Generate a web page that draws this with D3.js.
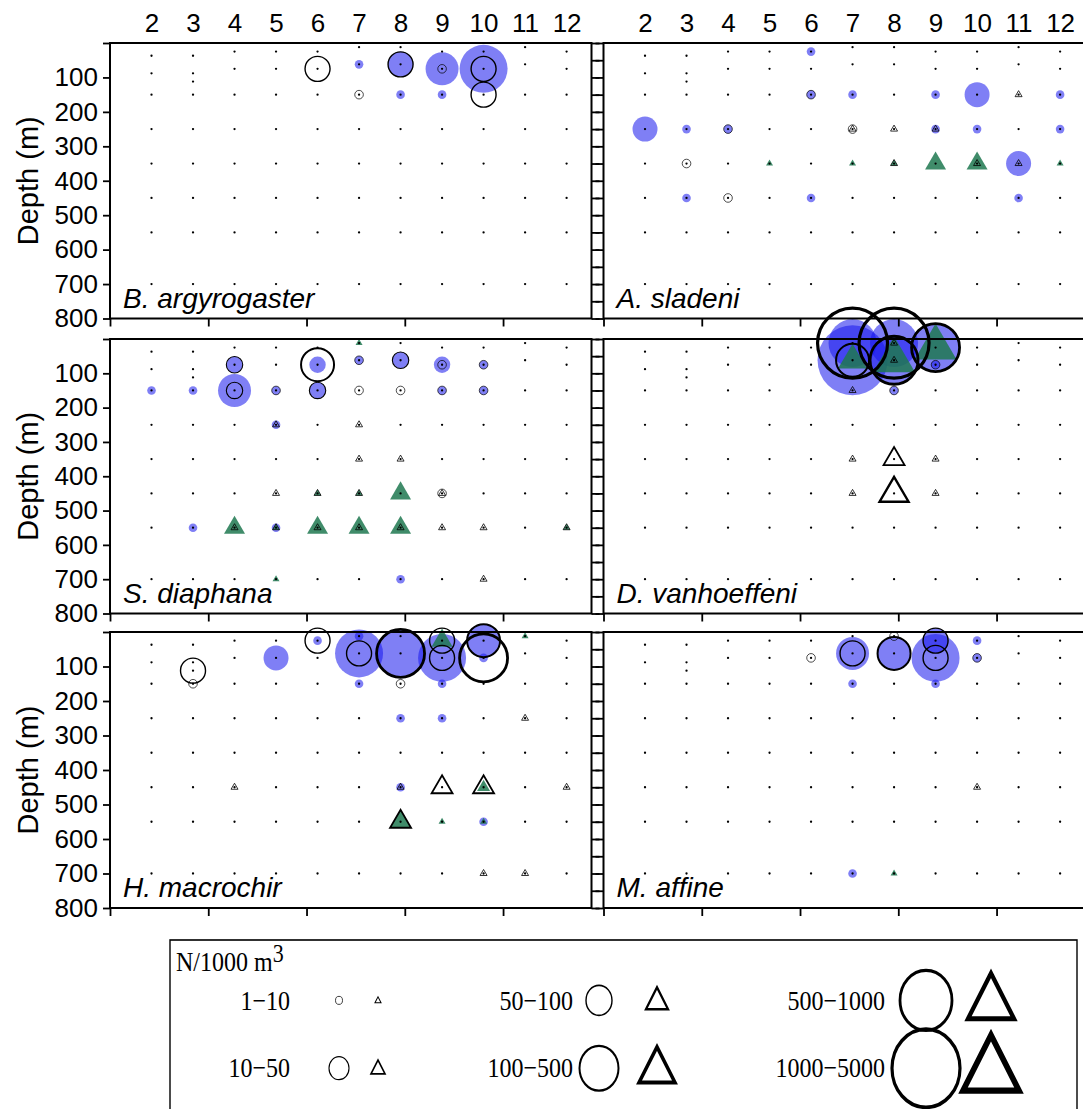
<!DOCTYPE html>
<html>
<head>
<meta charset="utf-8">
<script src="https://cdn.jsdelivr.net/npm/d3@7"></script>
<style>
  body { margin: 0; background: #fff; }
  svg { display: block; }
</style>
</head>
<body>
<svg id="chart" width="1083" height="1109"></svg>
<script>
// ---- data -------------------------------------------------------------
const stations = [2, 3, 4, 5, 6, 7, 8, 9, 10, 11, 12];
const depthTicks = [0, 100, 200, 300, 400, 500, 600, 700, 800];
const minorDepthTicks = d3.range(0, 801, 50);

// sampled depth layers (m) at each station
const upperDepths = {
  2: [37, 88], 3: [37, 88, 112], 4: [25, 75], 5: [25, 75], 6: [25, 75],
  7: [12, 62], 8: [12, 62], 9: [25, 75], 10: [25, 75], 11: [12, 62], 12: [25, 75]
};
const lowerDepths = [150, 250, 350, 450, 550, 700];

const abundanceClasses = ["1−10", "10−50", "50−100", "100−500", "500−1000", "1000−5000"];

// records: [station, depth, symbol, abundance class 1..6]
// symbol: fc = filled circle, oc = open circle, ft = filled triangle, ot = open triangle
const argyrogaster = [
  [6, 75, "oc", 3],
  [7, 62, "fc", 1], [7, 150, "oc", 1],
  [8, 62, "fc", 3], [8, 62, "oc", 3], [8, 150, "fc", 1],
  [9, 75, "fc", 4], [9, 75, "oc", 1], [9, 150, "fc", 1],
  [10, 75, "fc", 5], [10, 75, "oc", 3], [10, 150, "oc", 3]
];

const sladeni = [
  [6, 25, "fc", 1],
  [6, 150, "fc", 1], [6, 150, "oc", 1], [7, 150, "fc", 1], [9, 150, "fc", 1],
  [10, 150, "fc", 3], [11, 150, "ot", 1], [12, 150, "fc", 1],
  [2, 250, "fc", 3], [3, 250, "fc", 1], [4, 250, "fc", 1], [4, 250, "oc", 1],
  [7, 250, "oc", 1], [7, 250, "ot", 1], [8, 250, "ot", 1],
  [9, 250, "fc", 1], [9, 250, "ot", 1], [10, 250, "fc", 1], [12, 250, "fc", 1],
  [3, 350, "oc", 1], [5, 350, "ft", 1], [7, 350, "ft", 1],
  [8, 350, "ft", 1], [8, 350, "ot", 1], [9, 350, "ft", 3],
  [10, 350, "ft", 3], [10, 350, "ot", 1],
  [11, 350, "fc", 3], [11, 350, "ot", 1], [12, 350, "ft", 1],
  [3, 450, "fc", 1], [4, 450, "oc", 1], [6, 450, "fc", 1], [11, 450, "fc", 1]
];

const diaphana = [
  [7, 12, "ft", 1],
  [4, 75, "fc", 2], [4, 75, "oc", 2],
  [6, 75, "fc", 2], [6, 75, "oc", 4],
  [7, 62, "fc", 1], [7, 62, "oc", 1],
  [8, 62, "fc", 2], [8, 62, "oc", 2],
  [9, 75, "fc", 2], [9, 75, "oc", 1],
  [10, 75, "fc", 1], [10, 75, "oc", 1],
  [2, 150, "fc", 1], [3, 150, "fc", 1],
  [4, 150, "fc", 4], [4, 150, "oc", 2],
  [5, 150, "fc", 1], [5, 150, "oc", 1],
  [6, 150, "fc", 2], [6, 150, "oc", 2],
  [7, 150, "oc", 1], [8, 150, "oc", 1],
  [9, 150, "fc", 1], [9, 150, "oc", 1],
  [10, 150, "fc", 1], [10, 150, "oc", 1],
  [5, 250, "fc", 1], [5, 250, "ot", 1], [7, 250, "ot", 1],
  [7, 350, "ot", 1], [8, 350, "ot", 1],
  [5, 450, "ot", 1], [6, 450, "ft", 1], [6, 450, "ot", 1],
  [7, 450, "ft", 1], [7, 450, "ot", 1], [8, 450, "ft", 3],
  [9, 450, "oc", 1], [9, 450, "ot", 1],
  [3, 550, "fc", 1], [4, 550, "ft", 3], [4, 550, "ot", 1],
  [5, 550, "fc", 1], [5, 550, "ft", 1], [5, 550, "ot", 1],
  [6, 550, "ft", 3], [6, 550, "ot", 1], [7, 550, "ft", 3], [7, 550, "ot", 1],
  [8, 550, "ft", 3], [8, 550, "ot", 1], [9, 550, "ot", 1], [10, 550, "ot", 1],
  [12, 550, "ft", 1], [12, 550, "ot", 1],
  [5, 700, "ft", 1], [8, 700, "fc", 1], [10, 700, "ot", 1]
];

const vanhoeffeni = [
  [7, 12, "fc", 5], [7, 62, "fc", 6], [8, 12, "fc", 5], [8, 62, "fc", 5], [9, 25, "fc", 5],
  [7, 62, "ft", 4], [8, 62, "ft", 5], [9, 25, "ft", 5],
  [7, 12, "oc", 6], [7, 62, "oc", 4], [8, 12, "oc", 6], [8, 62, "oc", 5], [9, 25, "oc", 5],
  [9, 75, "fc", 1], [9, 75, "oc", 1],
  [8, 12, "ot", 1], [8, 62, "ot", 1],
  [7, 150, "ot", 1], [8, 150, "fc", 1], [8, 150, "oc", 1],
  [7, 350, "ot", 1], [8, 350, "ot", 3], [9, 350, "ot", 1],
  [7, 450, "ot", 1], [8, 450, "ot", 4], [9, 450, "ot", 1]
];

const macrochir = [
  [3, 112, "oc", 3], [3, 150, "oc", 1],
  [5, 75, "fc", 3],
  [6, 25, "fc", 1], [6, 25, "oc", 3],
  [7, 12, "fc", 1], [7, 62, "fc", 5], [7, 62, "oc", 3], [7, 150, "fc", 1],
  [8, 62, "fc", 5], [8, 62, "oc", 5], [8, 150, "oc", 1], [8, 250, "fc", 1],
  [9, 25, "ft", 3], [9, 25, "oc", 3], [9, 75, "fc", 5], [9, 75, "oc", 3],
  [9, 150, "fc", 1], [9, 250, "fc", 1],
  [10, 25, "fc", 4], [10, 25, "oc", 4], [10, 75, "fc", 1], [10, 75, "oc", 5],
  [11, 12, "ft", 1], [11, 250, "ot", 1],
  [4, 450, "ot", 1], [8, 450, "fc", 1], [8, 450, "ot", 1], [9, 450, "ot", 3],
  [10, 450, "ft", 2], [10, 450, "ot", 3], [12, 450, "ot", 1],
  [8, 550, "ft", 3], [8, 550, "ot", 3], [9, 550, "ft", 1],
  [10, 550, "fc", 1], [10, 550, "ft", 1],
  [10, 700, "ot", 1], [11, 700, "ot", 1]
];

const affine = [
  [6, 75, "oc", 1],
  [7, 62, "fc", 4], [7, 62, "oc", 3], [7, 150, "fc", 1],
  [8, 12, "oc", 1], [8, 62, "fc", 4], [8, 62, "oc", 4],
  [9, 25, "fc", 3], [9, 25, "oc", 3], [9, 75, "fc", 5], [9, 75, "oc", 3], [9, 150, "fc", 1],
  [10, 25, "fc", 1], [10, 75, "fc", 1], [10, 75, "oc", 1],
  [10, 450, "ot", 1],
  [7, 700, "fc", 1], [8, 700, "ft", 1]
];

const speciesNames = ["B. argyrogaster", "A. sladeni", "S. diaphana",
                      "D. vanhoeffeni", "H. macrochir", "M. affine"];
const speciesData = [argyrogaster, sladeni, diaphana, vanhoeffeni, macrochir, affine];

// ---- styling ------------------------------------------------------------
const BLUE = "rgb(22,22,236)", BLUE_OPACITY = 0.55;
const GREEN = "rgb(30,120,80)", GREEN_OPACITY = 0.85;
const sansFont = "'Liberation Sans', Arial, sans-serif";
const serifFont = "'Liberation Serif', 'Times New Roman', serif";

const circleRadius = d3.scaleOrdinal().domain([1, 2, 3, 4, 5, 6]).range([4.3, 8.2, 12.5, 16.5, 24, 35]);
const circleStroke = d3.scaleOrdinal().domain([1, 2, 3, 4, 5, 6]).range([0.7, 1.1, 1.4, 2, 2.8, 3.2]);
const triangleSide = d3.scaleOrdinal().domain([1, 2, 3, 4, 5, 6]).range([7, 13, 21, 29, 42, 54]);
const triangleStroke = d3.scaleOrdinal().domain([1, 2, 3, 4, 5, 6]).range([0.8, 1.2, 1.8, 2.4, 3.2, 4.5]);

const colX = [[110, 591.5], [603.5, 1085]];
const rowY = [[43, 318.5], [339, 613.5], [632, 908]];

function trianglePath(cx, cy, side, hRatio) {
  const h = side * hRatio;
  return `M${cx - side / 2},${cy + h / 3}L${cx + side / 2},${cy + h / 3}L${cx},${cy - 2 * h / 3}Z`;
}

const svg = d3.select("#chart");
const marksLayer = svg.append("g");
const axesLayer = svg.append("g");
const dotsLayer = svg.append("g");

const drawOrder = { fc: 0, ft: 1, oc: 2, ot: 3 };

speciesNames.forEach((name, i) => {
  const col = i % 2, row = Math.floor(i / 2);
  const x = d3.scaleLinear().domain([1, 12.6]).range(colX[col]);
  const y = d3.scaleLinear().domain([0, 800]).range(rowY[row]);
  const xb = d3.scaleLinear().domain([0, 4.9]).range(colX[col]);

  const records = speciesData[i]
    .map(([s, d, k, c]) => ({ s, d, k, c }))
    .sort((a, b) => drawOrder[a.k] - drawOrder[b.k] || b.c - a.c);

  const mg = marksLayer.append("g");
  mg.selectAll("circle.fc").data(records.filter(r => r.k === "fc")).join("circle")
    .attr("cx", r => x(r.s)).attr("cy", r => y(r.d)).attr("r", r => circleRadius(r.c))
    .attr("fill", BLUE).attr("fill-opacity", BLUE_OPACITY);
  mg.selectAll("path.ft").data(records.filter(r => r.k === "ft")).join("path")
    .attr("d", r => trianglePath(x(r.s), y(r.d), triangleSide(r.c), 0.86))
    .attr("fill", GREEN).attr("fill-opacity", GREEN_OPACITY);
  mg.selectAll("circle.oc").data(records.filter(r => r.k === "oc")).join("circle")
    .attr("cx", r => x(r.s)).attr("cy", r => y(r.d)).attr("r", r => circleRadius(r.c))
    .attr("fill", "none").attr("stroke", "#000").attr("stroke-width", r => circleStroke(r.c));
  mg.selectAll("path.ot").data(records.filter(r => r.k === "ot")).join("path")
    .attr("d", r => trianglePath(x(r.s), y(r.d), triangleSide(r.c), 0.86))
    .attr("fill", "none").attr("stroke", "#000").attr("stroke-linejoin", "miter")
    .attr("stroke-width", r => triangleStroke(r.c));

  // sampling grid
  const grid = stations.flatMap(s => upperDepths[s].concat(lowerDepths).map(d => ({ s, d })));
  dotsLayer.append("g").selectAll("circle").data(grid).join("circle")
    .attr("cx", p => x(p.s)).attr("cy", p => y(p.d)).attr("r", 1.15).attr("fill", "#000");

  // axes and frame
  const ag = axesLayer.append("g");
  const [x0, x1] = colX[col], [y0, y1] = rowY[row];

  const bottom = ag.append("g").attr("transform", `translate(0,${y1})`)
    .call(d3.axisBottom(xb).tickValues([0, 1, 2, 3, 4]).tickSize(8).tickSizeOuter(0).tickFormat(""));
  bottom.select(".domain").remove();
  bottom.selectAll("line").attr("stroke-width", 1.8);

  if (col === 0) {
    const left = ag.append("g").attr("transform", `translate(${x0},0)`)
      .call(d3.axisLeft(y).tickValues(depthTicks).tickSize(7).tickPadding(5).tickSizeOuter(0)
        .tickFormat(d => d === 0 ? "" : d));
    left.select(".domain").remove();
    left.selectAll("line").attr("stroke-width", 1.8);
    left.selectAll("text").attr("font-family", sansFont).attr("font-size", 26).attr("fill", "#000");

    const right = ag.append("g").attr("transform", `translate(${x1},0)`)
      .call(d3.axisRight(y).tickValues(minorDepthTicks).tickSize(8).tickSizeOuter(0).tickFormat(""));
    right.select(".domain").remove();
    right.selectAll("line").attr("stroke-width", 1.8);

    ag.append("text")
      .attr("transform", `translate(38,${(y0 + y1) / 2}) rotate(-90)`)
      .attr("text-anchor", "middle")
      .attr("font-family", sansFont).attr("font-size", 29)
      .text("Depth (m)");
  } else {
    const left = ag.append("g").attr("transform", `translate(${x0},0)`)
      .call(d3.axisLeft(y).tickValues(minorDepthTicks).tickSize(8).tickSizeOuter(0).tickFormat(""));
    left.select(".domain").remove();
    left.selectAll("line").attr("stroke-width", 1.8);
  }

  if (row === 0) {
    const top = ag.append("g").attr("transform", `translate(0,${y0})`)
      .call(d3.axisTop(x).tickValues(stations).tickSize(0).tickPadding(11));
    top.select(".domain").remove();
    top.selectAll("text").attr("font-family", sansFont).attr("font-size", 26).attr("fill", "#000");
  }

  ag.append("rect")
    .attr("x", x0).attr("y", y0).attr("width", x1 - x0).attr("height", y1 - y0)
    .attr("fill", "none").attr("stroke", "#000").attr("stroke-width", 2);

  ag.append("text")
    .attr("x", x0 + 13).attr("y", y1 - 11)
    .attr("font-family", sansFont).attr("font-size", 28).attr("font-style", "italic")
    .text(name);
});

// ---- legend ---------------------------------------------------------------
const legend = svg.append("g").attr("transform", "translate(170,940) scale(1,1.15)");
legend.append("rect")
  .attr("x", 0).attr("y", 0).attr("width", 907).attr("height", 170)
  .attr("fill", "none").attr("stroke", "#000").attr("stroke-width", 1.4);

const title = legend.append("text")
  .attr("x", 6).attr("y", 27)
  .attr("font-family", serifFont).attr("font-size", 24);
title.append("tspan").text("N/1000 m");
title.append("tspan").attr("dy", -8).attr("font-size", 22).text("3");

const legendLabelRight = [120, 403, 715];
const legendCircleX = [169, 429, 756];
const legendTriangleX = [208, 487, 821];
const legendRowY = [52.5, 111.5];
const legendRadius = d3.scaleOrdinal().domain([1, 2, 3, 4, 5, 6]).range([3.5, 10, 13, 19.5, 26, 34]);
const legendSide = d3.scaleOrdinal().domain([1, 2, 3, 4, 5, 6]).range([6, 14, 22, 36, 46, 56]);
const legendTriStroke = d3.scaleOrdinal().domain([1, 2, 3, 4, 5, 6]).range([1, 1.6, 2.2, 3.4, 4.2, 5.5]);

const entries = legend.selectAll("g.entry")
  .data(abundanceClasses.map((label, i) => ({ label, c: i + 1, col: Math.floor(i / 2), row: i % 2 })))
  .join("g");

entries.append("text")
  .attr("x", d => legendLabelRight[d.col]).attr("y", d => legendRowY[d.row] + 8)
  .attr("text-anchor", "end")
  .attr("font-family", serifFont).attr("font-size", 24)
  .text(d => d.label);

entries.append("circle")
  .attr("cx", d => legendCircleX[d.col]).attr("cy", d => legendRowY[d.row])
  .attr("r", d => legendRadius(d.c))
  .attr("fill", "none").attr("stroke", "#000").attr("stroke-width", d => circleStroke(d.c));

entries.append("path")
  .attr("d", d => trianglePath(legendTriangleX[d.col], legendRowY[d.row] + legendSide(d.c) * 0.06,
                               legendSide(d.c), 0.86))
  .attr("fill", "none").attr("stroke", "#000").attr("stroke-width", d => legendTriStroke(d.c));
</script>
</body>
</html>
